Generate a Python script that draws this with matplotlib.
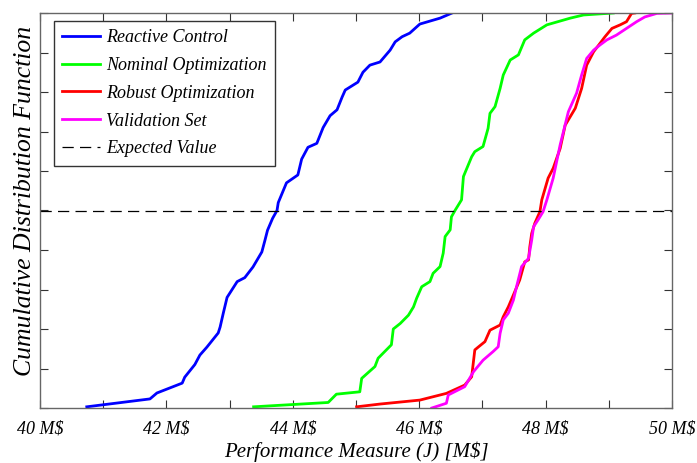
import matplotlib
matplotlib.use("Agg")
import matplotlib.pyplot as plt
from matplotlib.ticker import MultipleLocator, FixedLocator

# --- data (x in M$, y = CDF) ---
reactive_x = [40.74, 41.74, 41.85, 42.25, 42.29, 42.45, 42.53, 42.64, 42.82, 42.85, 42.90, 42.96,
              43.12, 43.24, 43.37, 43.51, 43.56, 43.60, 43.68, 43.75, 43.77, 43.90, 44.08, 44.14,
              44.24, 44.38, 44.48, 44.59, 44.70, 44.78, 44.83, 45.03, 45.11, 45.22, 45.38, 45.54,
              45.62, 45.73, 45.85, 46.01, 46.33, 46.52]
reactive_y = [0.003, 0.023, 0.038, 0.063, 0.078, 0.110, 0.134, 0.154, 0.190, 0.205, 0.240, 0.280,
              0.320, 0.330, 0.357, 0.395, 0.425, 0.450, 0.480, 0.500, 0.520, 0.570, 0.590, 0.630,
              0.660, 0.670, 0.710, 0.740, 0.755, 0.787, 0.805, 0.825, 0.850, 0.868, 0.876, 0.906,
              0.927, 0.940, 0.949, 0.972, 0.987, 1.000]

nominal_x = [43.38, 44.56, 44.69, 45.06, 45.09, 45.30, 45.35, 45.56, 45.59, 45.70, 45.83, 45.91,
             45.96, 46.04, 46.17, 46.22, 46.33, 46.38, 46.41, 46.49, 46.51, 46.57, 46.67, 46.70,
             46.83, 46.88, 47.01, 47.09, 47.12, 47.20, 47.28, 47.33, 47.44, 47.57, 47.67, 47.81,
             48.02, 48.39, 48.60, 49.07]
nominal_y = [0.003, 0.014, 0.035, 0.041, 0.075, 0.105, 0.126, 0.160, 0.200, 0.214, 0.235, 0.256,
             0.278, 0.307, 0.320, 0.341, 0.358, 0.392, 0.434, 0.451, 0.484, 0.501, 0.527, 0.586,
             0.636, 0.649, 0.662, 0.708, 0.746, 0.763, 0.809, 0.843, 0.881, 0.894, 0.932, 0.949,
             0.970, 0.987, 0.995, 1.000]

robust_x = [45.01, 45.38, 46.01, 46.43, 46.72, 46.83, 46.88, 46.94, 47.04, 47.12, 47.28, 47.33,
            47.41, 47.49, 47.59, 47.67, 47.73, 47.75, 47.78, 47.83, 47.91, 47.94, 48.04, 48.12,
            48.23, 48.31, 48.47, 48.57, 48.65, 48.76, 48.86, 48.94, 49.05, 49.18, 49.28, 49.36,
            49.41]
robust_y = [0.003, 0.010, 0.020, 0.037, 0.058, 0.079, 0.147, 0.155, 0.168, 0.197, 0.210, 0.231,
            0.256, 0.286, 0.324, 0.370, 0.375, 0.408, 0.442, 0.468, 0.497, 0.527, 0.582, 0.607,
            0.657, 0.716, 0.759, 0.809, 0.868, 0.902, 0.923, 0.940, 0.961, 0.970, 0.978, 0.999,
            1.000]

valid_x = [46.20, 46.43, 46.46, 46.72, 46.86, 47.01, 47.17, 47.25, 47.28, 47.33, 47.41, 47.49,
           47.54, 47.62, 47.73, 47.78, 47.81, 47.88, 47.96, 48.02, 48.12, 48.23, 48.36, 48.49,
           48.57, 48.65, 48.76, 48.86, 48.97, 49.12, 49.28, 49.44, 49.57, 49.76, 49.99]
valid_y = [0.000, 0.012, 0.033, 0.054, 0.092, 0.121, 0.143, 0.155, 0.189, 0.223, 0.240, 0.273,
           0.307, 0.358, 0.379, 0.425, 0.459, 0.476, 0.497, 0.527, 0.582, 0.666, 0.750, 0.797,
           0.843, 0.885, 0.906, 0.919, 0.932, 0.944, 0.961, 0.978, 0.990, 0.999, 1.000]

expected_value = 0.5
x_ticks_labeled = [40, 42, 44, 46, 48, 50]
x_tick_labels = ["40 M$", "42 M$", "44 M$", "46 M$", "48 M$", "50 M$"]
series_labels = ["Reactive Control", "Nominal Optimization", "Robust Optimization",
                 "Validation Set", "Expected Value"]

plt.rcParams['font.family'] = ['Liberation Serif', 'DejaVu Serif']

fig = plt.figure(figsize=(6.97, 4.63), dpi=100)
ax = fig.add_axes([40/697, 55/463, 632/697, 395/463])

lw = 2.0
ax.plot(reactive_x, reactive_y, color=(0, 0, 1), lw=lw, label=series_labels[0])
ax.plot(nominal_x, nominal_y, color=(0, 1, 0), lw=lw, label=series_labels[1])
ax.plot(robust_x, robust_y, color=(1, 0, 0), lw=lw, label=series_labels[2])
ax.plot(valid_x, valid_y, color=(1, 0, 1), lw=lw, label=series_labels[3])
ax.axhline(expected_value, color='black', lw=0.9, ls=(0, (9, 5)), label=series_labels[4])

ax.set_xlim(40, 50)
ax.set_ylim(0, 1)
ax.xaxis.set_major_locator(FixedLocator(x_ticks_labeled))
ax.set_xticklabels(x_tick_labels, fontstyle='italic', fontsize=13)
ax.xaxis.set_minor_locator(MultipleLocator(1))
ax.yaxis.set_major_locator(MultipleLocator(0.1))
ax.set_yticklabels([])
ax.tick_params(which='both', direction='in', top=True, right=True, length=6,
               width=0.8, color='#333333', pad=9)
for s in ax.spines.values():
    s.set_color('#666666')
    s.set_linewidth(1.0)

ax.set_xlabel("Performance Measure (J) [M$]", fontstyle='italic', fontsize=15, labelpad=3)
ax.set_ylabel("Cumulative Distribution Function", fontstyle='italic', fontsize=18.5)
ax.yaxis.set_label_coords(-4/632, 0.524)

leg = ax.legend(loc='upper left', bbox_to_anchor=(14/632, 1 - 8/395),
                prop={'style': 'italic', 'size': 13}, fancybox=False, framealpha=1,
                edgecolor='#333333', handlelength=2.1, borderaxespad=0,
                labelspacing=0.6, borderpad=0.45, handletextpad=0.35)
leg.get_frame().set_linewidth(1.0)

fig.savefig("out.png", dpi=100)
